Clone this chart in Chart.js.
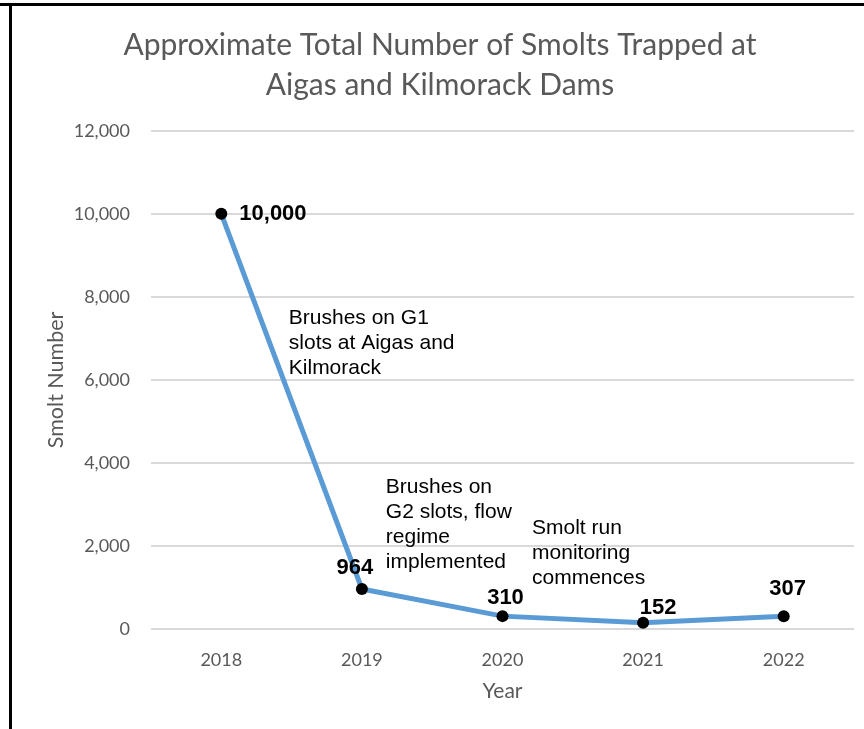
<!DOCTYPE html>
<html>
<head>
<meta charset="utf-8">
<script src="https://cdn.jsdelivr.net/npm/chart.js@4"></script>
<style>
  body { margin: 0; background: #fff; width: 864px; height: 729px; overflow: hidden; position: relative; }
  #frameTop { position: absolute; left: 0; top: 3px; width: 864px; height: 3px; background: #000; }
  #frameLeft { position: absolute; left: 9px; top: 3px; width: 3px; height: 726px; background: #000; }
  #wrap { position: absolute; left: 12px; top: 6px; width: 852px; height: 723px; }
</style>
</head>
<body>
<div id="frameTop"></div>
<div id="frameLeft"></div>
<div id="wrap"><canvas id="myChart"></canvas></div>
<script>
// chart data
const years = ["2018", "2019", "2020", "2021", "2022"];
const smolts = [10000, 964, 310, 152, 307];
const yTicks = [0, 2000, 4000, 6000, 8000, 10000, 12000];

// text notes, anchored in data units (x = category index, y = smolt value of first line)
const noteText = [
  ["Brushes on G1", "slots at Aigas and", "Kilmorack"],
  ["Brushes on", "G2 slots, flow", "regime", "implemented"],
  ["Smolt run", "monitoring", "commences"]
];
const noteX = [0.48, 1.17, 2.21];
const noteY = [7480, 3410, 2430];

// value label nudges in px [dx, dy]
const labelNudge = [[18, 0], [-7, -21], [3, -18], [15, -15], [4, -27]];

const grey = "#595959";
const tickFont = { family: "Lato", size: 18 };

const labelsPlugin = {
  id: "labelsPlugin",
  afterDatasetsDraw(chart) {
    const ctx = chart.ctx;
    const meta = chart.getDatasetMeta(0);
    ctx.save();
    ctx.fillStyle = "#000";
    ctx.font = "bold 22px 'Liberation Sans', Arial, sans-serif";
    ctx.textBaseline = "middle";
    meta.data.forEach((pt, i) => {
      const [dx, dy] = labelNudge[i];
      ctx.textAlign = i === 0 ? "left" : "center";
      ctx.fillText(smolts[i].toLocaleString("en-US"), pt.x + dx, pt.y + dy);
    });
    // notes
    const xs = chart.scales.x, ys = chart.scales.y;
    ctx.font = "21px 'Liberation Sans', Arial, sans-serif";
    ctx.textAlign = "left";
    noteText.forEach((lines, n) => {
      const x0 = xs.getPixelForValue(noteX[n]);
      const y0 = ys.getPixelForValue(noteY[n]);
      lines.forEach((t, k) => ctx.fillText(t, x0, y0 + k * 25));
    });
    ctx.restore();
  }
};

const ctx = document.getElementById("myChart").getContext("2d");
const chart = new Chart(ctx, {
  type: "line",
  data: {
    labels: years,
    datasets: [{
      data: smolts,
      borderColor: "#5B9BD5",
      borderWidth: 5,
      tension: 0,
      pointRadius: 6,
      pointBackgroundColor: "#000",
      pointBorderColor: "#000",
      pointBorderWidth: 0
    }]
  },
  options: {
    responsive: true,
    maintainAspectRatio: false,
    animation: false,
    layout: { padding: { left: 14, right: 10, top: 0, bottom: 0 } },
    plugins: {
      legend: { display: false },
      tooltip: { enabled: false },
      title: {
        display: true,
        text: ["Approximate Total Number of Smolts Trapped at", "Aigas and Kilmorack Dams"],
        color: grey,
        font: { family: "Lato", size: 30, weight: "normal", lineHeight: 1.33 },
        padding: { top: 19, bottom: 26 }
      }
    },
    scales: {
      x: {
        offset: true,
        grid: { display: false, drawTicks: false },
        border: { display: false },
        ticks: { color: grey, font: tickFont, padding: 20 },
        title: { display: true, text: "Year", color: grey, font: { family: "Lato", size: 21 }, padding: { top: 0, bottom: 25 } },
        afterFit(scale) { scale.height = 100; }
      },
      y: {
        min: 0,
        max: 12000,
        afterBuildTicks(scale) { scale.ticks = yTicks.map(v => ({ value: v })); },
        grid: { color: "#d9d9d9", lineWidth: 2, drawTicks: false },
        border: { display: false },
        ticks: { color: grey, font: tickFont, padding: 21, callback: v => v.toLocaleString("en-US") },
        title: { display: true, text: "Smolt Number", color: grey, font: { family: "Lato", size: 21.5 }, padding: { top: 17, bottom: 0 } },
        afterFit(scale) { scale.width = 125; }
      }
    }
  },
  plugins: [labelsPlugin]
});
</script>
</body>
</html>
